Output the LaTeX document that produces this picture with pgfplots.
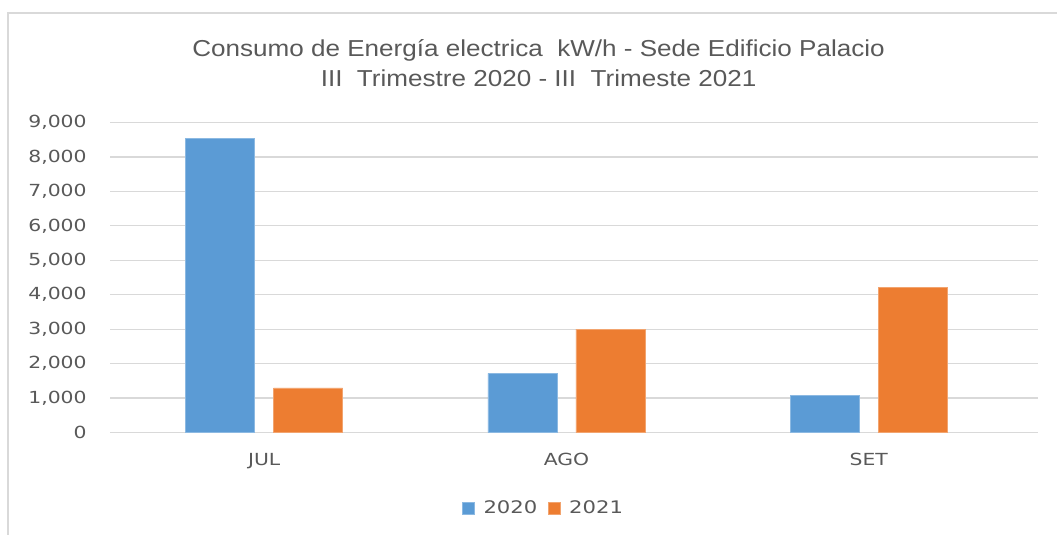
\documentclass[border=0pt]{standalone}
\usepackage{fontspec}
\setmainfont{Liberation Sans}
\newfontfamily\titlefont[FakeStretch=1.13]{Liberation Sans}
\newfontfamily\tickfont[FakeStretch=1.22]{DejaVu Sans}
\usepackage{pgfplots}
\pgfplotsset{compat=1.18}
\definecolor{cblue}{HTML}{5B9BD5}
\definecolor{corange}{HTML}{ED7D31}
\definecolor{cgrid}{HTML}{D9D9D9}
\definecolor{ctext}{HTML}{595959}
\begin{document}
\begin{tikzpicture}
\useasboundingbox (0,0) rectangle (792.75pt,401.25pt);
\draw[cgrid, line width=1.2pt] (6pt,0) -- (6pt,391.5pt) -- (792.75pt,391.5pt);
\begin{axis}[
  at={(82.5pt,76.875pt)}, anchor=south west,
  scale only axis, width=696pt, height=232.5pt,
  ybar=14.25pt, bar width=51.75pt,
  xmin=-0.51, xmax=2.56, ymin=0, ymax=9000,
  xtick=data, xticklabels={JUL,AGO,SET},
  ytick={0,1000,...,9000},
  axis line style={draw=none},
  major tick length=0pt,
  ymajorgrids, grid style={cgrid, line width=0.9pt},
  /pgf/number format/.cd, 1000 sep={,}, assume math mode=true,
  /pgfplots/.cd,
  scaled y ticks=false,
  yticklabel style={font=\tickfont\fontsize{12.5}{14}\selectfont, text=ctext, xshift=-14pt},
  xticklabel style={font=\tickfont\fontsize{12.5}{14}\selectfont, text=ctext, yshift=-12pt},
  legend style={at={(0.4677,-0.2435)}, anchor=center, draw=none, legend columns=2,
    font=\tickfont\fontsize{13}{14}\selectfont, text=ctext,
    /tikz/every odd column/.append style={column sep=4.5pt},
    /tikz/every even column/.append style={column sep=6pt}},
  legend image code/.code={\fill[#1] (0pt,-4.5pt) rectangle (9pt,4.5pt);},
]
\addplot[fill=cblue, draw=cblue!70!white] coordinates {(0,8535) (1,1713) (2,1075)};
\addplot[fill=corange, draw=corange!70!white] coordinates {(0,1298) (1,3000) (2,4220)};
\legend{2020,2021}
\end{axis}
\node[text=ctext, font=\titlefont\fontsize{17.3}{22.5}\selectfont, align=center] at (403.9pt,354pt)
  {Consumo de Energía electrica\ \ kW/h - Sede Edificio Palacio\\III\ \ Trimestre 2020 - III\ \ Trimeste 2021};
\end{tikzpicture}
\end{document}
